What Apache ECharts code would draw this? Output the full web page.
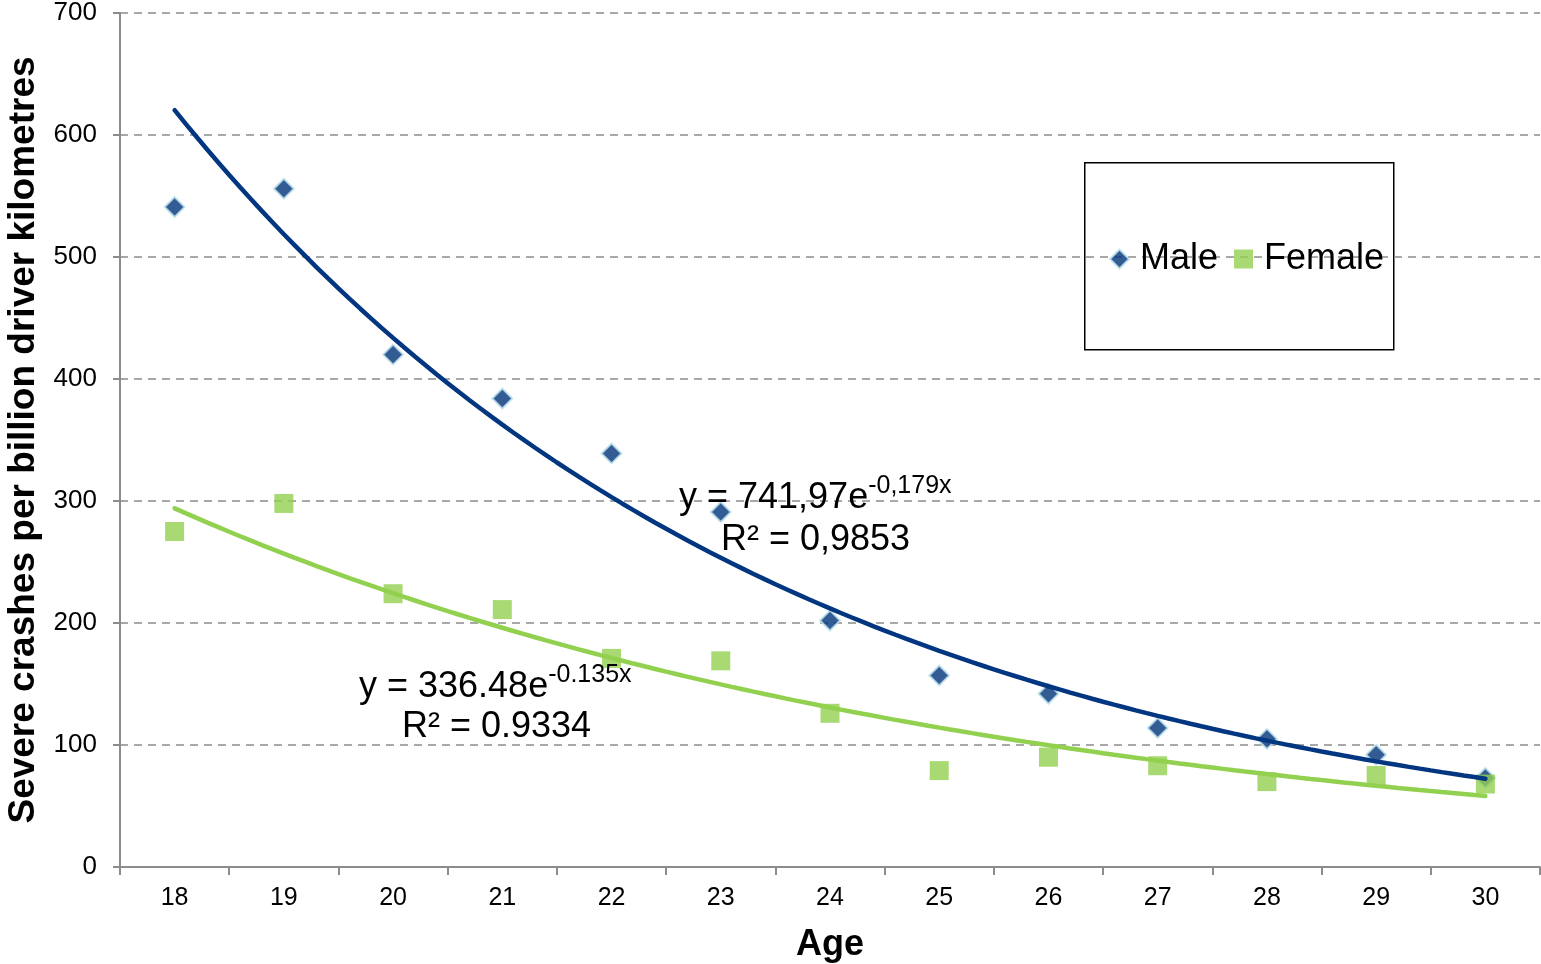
<!DOCTYPE html>
<html>
<head>
<meta charset="utf-8">
<script src="https://cdn.jsdelivr.net/npm/echarts@6/dist/echarts.min.js"></script>
<style>html,body{margin:0;padding:0;background:#fff}#c{width:1541px;height:964px}</style>
</head>
<body>
<div id="c"></div>
<script>
var ages = ['18','19','20','21','22','23','24','25','26','27','28','29','30'];
var maleValues = [541, 556, 420, 384, 339, 291, 202, 157, 142, 114, 105, 92, 73];
var femaleValues = [275, 298, 224, 211, 171, 169, 126, 79, 90, 83, 70, 75, 68];
var yTicks = [0, 100, 200, 300, 400, 500, 600, 700];
// Trendline coefficients as printed on the chart (x = 1 for age 18)
var maleFit = {a: 741.97, b: -0.179};
var femaleFit = {a: 336.48, b: -0.135};

function trend(fit) {
  var pts = [];
  for (var i = 0; i <= 120; i++) {
    var x = 1 + i / 10;
    pts.push([x + 17, fit.a * Math.exp(fit.b * x)]);
  }
  return pts;
}

var FONT = '"Liberation Sans", Arial, sans-serif';
var mainRich = {fontFamily: FONT, fontSize: 36, color: '#000', verticalAlign: 'bottom', lineHeight: 42};
var supRich = {fontFamily: FONT, fontSize: 25, color: '#000', verticalAlign: 'top', lineHeight: 42, padding: [0, 0, 18, 0]};
var chart = echarts.init(document.getElementById('c'));
chart.setOption({
  animation: false,
  backgroundColor: '#fff',
  grid: {left: 120, right: 1, top: 13, bottom: 97, containLabel: false, outerBoundsMode: 'none'},
  xAxis: [{
    type: 'category',
    data: ages,
    boundaryGap: true,
    name: 'Age',
    nameLocation: 'middle',
    nameGap: 60,
    nameTextStyle: {fontFamily: FONT, fontSize: 36, fontWeight: 'bold', color: '#000'},
    axisLine: {lineStyle: {color: '#8c8c8c', width: 2}},
    axisTick: {show: true, length: 8, lineStyle: {color: '#8c8c8c', width: 2}},
    axisLabel: {fontFamily: FONT, fontSize: 25, color: '#000', margin: 19}
  }, {
    type: 'value', min: 17.5, max: 30.5, show: false
  }],
  yAxis: {
    type: 'value',
    min: yTicks[0], max: yTicks[yTicks.length - 1], interval: 100,
    name: 'Severe crashes per billion driver kilometres',
    nameLocation: 'middle',
    nameGap: 78,
    nameTextStyle: {fontFamily: FONT, fontSize: 37, fontWeight: 'bold', color: '#000'},
    axisLine: {show: true, lineStyle: {color: '#8c8c8c', width: 2}},
    axisTick: {show: true, length: 7, lineStyle: {color: '#8c8c8c', width: 2}},
    axisLabel: {fontFamily: FONT, fontSize: 26, color: '#000', margin: 23},
    splitLine: {show: true, lineStyle: {color: '#8c8c8c', width: 1.5, type: [8, 6]}}
  },
  legend: {
    left: 1104, top: 236,
    itemWidth: 19, itemHeight: 19, itemGap: 16,
    textStyle: {fontFamily: FONT, fontSize: 36, color: '#000', padding: [0, 0, 0, 6]},
    data: [{name: 'Male', icon: 'diamond'}, {name: 'Female', icon: 'rect'}]
  },
  series: [{
    name: 'Male', type: 'scatter', data: maleValues,
    symbol: 'diamond', symbolSize: 20, z: 2,
    itemStyle: {color: '#00337a', borderColor: '#bfe3ec', borderWidth: 2}
  }, {
    name: 'Female', type: 'scatter', data: femaleValues,
    symbol: 'rect', symbolSize: 19, z: 2,
    itemStyle: {color: '#92d050'}
  }, {
    name: 'Male trend', type: 'line', xAxisIndex: 1, data: trend(maleFit),
    showSymbol: false, symbol: 'none', z: 5, silent: true,
    lineStyle: {color: '#023680', width: 4.5, cap: 'round'}
  }, {
    name: 'Female trend', type: 'line', xAxisIndex: 1, data: trend(femaleFit),
    showSymbol: false, symbol: 'none', z: 4, silent: true,
    lineStyle: {color: '#92d050', width: 4.5, cap: 'round'}
  }],
  graphic: [{
    type: 'rect', left: 1084, top: 162, z: 0,
    shape: {width: 309, height: 187},
    style: {fill: '#fff', stroke: '#000', lineWidth: 1.5}
  }, {
    type: 'text', left: 679, top: 474, z: 10,
    style: {text: '{m|y = 741,97e}{s|-0,179x}', rich: {m: mainRich, s: supRich}}
  }, {
    type: 'text', left: 721, top: 522, z: 10,
    style: {text: 'R² = 0,9853', fontFamily: FONT, fontSize: 36, fill: '#000'}
  }, {
    type: 'text', left: 359, top: 663, z: 10,
    style: {text: '{m|y = 336.48e}{s|-0.135x}', rich: {m: mainRich, s: supRich}}
  }, {
    type: 'text', left: 402, top: 709, z: 10,
    style: {text: 'R² = 0.9334', fontFamily: FONT, fontSize: 36, fill: '#000'}
  }]
});
</script>
</body>
</html>
